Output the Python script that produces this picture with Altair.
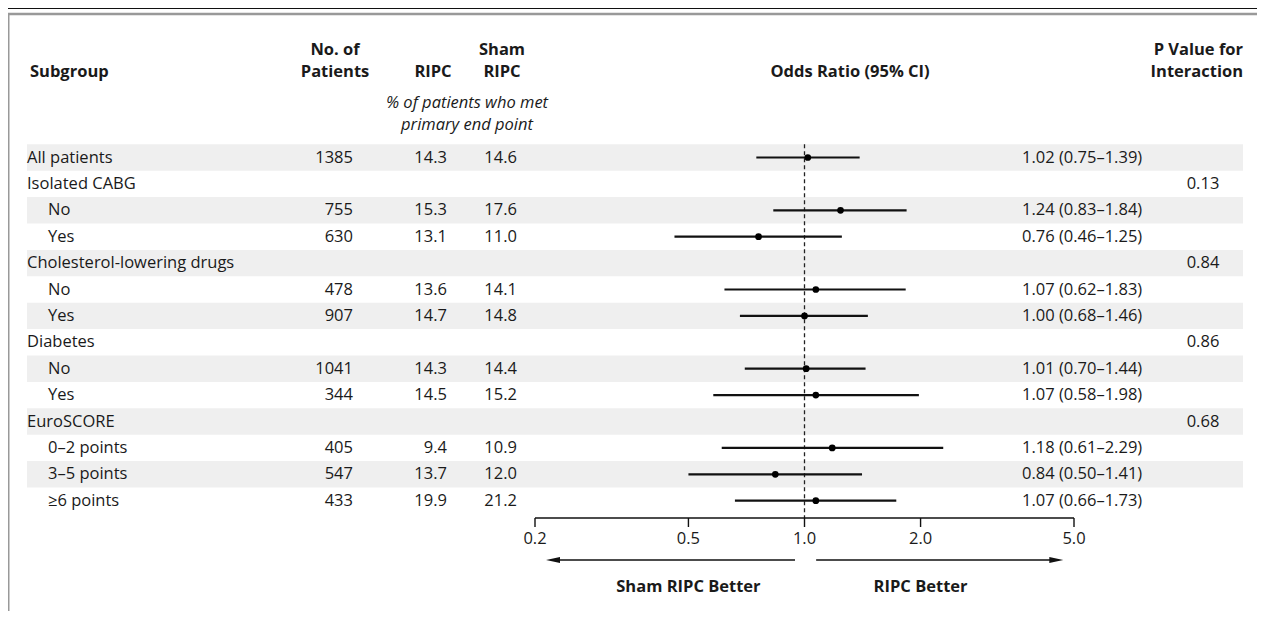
import altair as alt
import pandas as pd

# ---------------- data ----------------
labels = ["All patients", "Isolated CABG", "No", "Yes", "Cholesterol-lowering drugs",
          "No", "Yes", "Diabetes", "No", "Yes", "EuroSCORE",
          "0\u20132 points", "3\u20135 points", "\u22656 points"]
indent = [0, 0, 1, 1, 0, 1, 1, 0, 1, 1, 0, 1, 1, 1]
n_patients = ["1385", "", "755", "630", "", "478", "907", "", "1041", "344", "", "405", "547", "433"]
ripc_pct = ["14.3", "", "15.3", "13.1", "", "13.6", "14.7", "", "14.3", "14.5", "", "9.4", "13.7", "19.9"]
sham_pct = ["14.6", "", "17.6", "11.0", "", "14.1", "14.8", "", "14.4", "15.2", "", "10.9", "12.0", "21.2"]
odds = [1.02, None, 1.24, 0.76, None, 1.07, 1.00, None, 1.01, 1.07, None, 1.18, 0.84, 1.07]
ci_low = [0.75, None, 0.83, 0.46, None, 0.62, 0.68, None, 0.70, 0.58, None, 0.61, 0.50, 0.66]
ci_high = [1.39, None, 1.84, 1.25, None, 1.83, 1.46, None, 1.44, 1.98, None, 2.29, 1.41, 1.73]
p_interaction = ["", "0.13", "", "", "0.84", "", "", "0.86", "", "", "0.68", "", "", ""]
tick_values = [0.2, 0.5, 1.0, 2.0, 5.0]
tick_labels = ["0.2", "0.5", "1.0", "2.0", "5.0"]

# ---------------- layout ----------------
W, H = 1249, 603
ROW0_PAGE, STEP = 157.5, 26.4      # page y of first row, row spacing
ROW0 = ROW0_PAGE - 8


def r(ypage):                      # page pixel -> row units
    return (ypage - ROW0_PAGE) / STEP


FONT = "Open Sans"
FS = 16.5
INK = "#1a1a1a"
D_TOP = -ROW0 / STEP
D_BOT = (H - ROW0) / STEP
yscale = alt.Scale(domain=[D_TOP, D_BOT], range=[0, H], nice=False, zero=False)
xscale = alt.Scale(type="log", domain=[0.2, 5.0], range=[535 - 8, 1074 - 8], nice=False)
pxscale = alt.Scale(domain=[0, W], range=[-8, W - 8], nice=False, zero=False)

rows = pd.DataFrame({
    "row": list(range(len(labels))),
    "label": labels,
    "indent": indent,
    "n": n_patients,
    "ripc": ripc_pct,
    "sham": sham_pct,
    "or": odds,
    "lo": ci_low,
    "hi": ci_high,
    "p": p_interaction,
})
rows["or_text"] = [
    f"{o:.2f} ({l:.2f}\u2013{h:.2f})" if o is not None and not pd.isna(o) else ""
    for o, l, h in zip(rows["or"], rows["lo"], rows["hi"])
]
rows["top"] = rows["row"] - 0.5
rows["bot"] = rows["row"] + 0.5

base = alt.Chart(rows)
Y = alt.Y("row:Q", scale=yscale, axis=None)

bands = base.transform_filter("datum.row % 2 == 0").mark_rect(color="#efefef").encode(
    x=alt.value(27 - 8), x2=alt.value(1243 - 8),
    y=alt.Y("top:Q", scale=yscale, axis=None), y2="bot:Q",
)


def col_text(field, xpx, align):
    return base.mark_text(font=FONT, fontSize=FS, align=align, baseline="middle", color=INK).encode(
        x=alt.value(xpx - 8), y=Y, text=f"{field}:N")


lab_head = base.transform_filter("datum.indent == 0").mark_text(
    font=FONT, fontSize=FS, align="left", baseline="middle", color=INK
).encode(x=alt.value(27 - 8), y=Y, text="label:N")
lab_sub = base.transform_filter("datum.indent == 1").mark_text(
    font=FONT, fontSize=FS, align="left", baseline="middle", color=INK
).encode(x=alt.value(48 - 8), y=Y, text="label:N")

t_n = col_text("n", 353, "right")
t_ripc = col_text("ripc", 447, "right")
t_sham = col_text("sham", 517, "right")
t_or = col_text("or_text", 1022, "left")
t_p = col_text("p", 1203, "center")

# dashed reference line at OR = 1
ref = pd.DataFrame({"v": [1.0], "y1": [-0.5], "y2": [r(518)]})
ref_line = alt.Chart(ref).mark_rule(color="#222", strokeDash=[4, 3], strokeWidth=1.3).encode(
    x=alt.X("v:Q", scale=xscale, axis=None),
    y=alt.Y("y1:Q", scale=yscale, axis=None), y2="y2:Q",
)

ci = base.transform_filter("datum.or != null").mark_rule(color="#111", strokeWidth=2.2).encode(
    x=alt.X("lo:Q", scale=xscale, axis=None), x2="hi:Q", y=Y,
)
pts = base.transform_filter("datum.or != null").mark_point(
    filled=True, color="#000", size=45, opacity=1, shape="circle"
).encode(x=alt.X("or:Q", scale=xscale, axis=None), y=Y)

# axis (drawn through the x scale)
AX = r(518)
axis_df = pd.DataFrame({"a": [0.2], "b": [5.0], "y": [AX]})
axis_line = alt.Chart(axis_df).mark_rule(color="#111", strokeWidth=1.4).encode(
    x=alt.X("a:Q", scale=xscale, axis=None), x2="b:Q",
    y=alt.Y("y:Q", scale=yscale, axis=None),
)
ticks_df = pd.DataFrame({"v": tick_values, "lab": tick_labels,
                         "y1": [AX] * 5, "y2": [r(527)] * 5, "yl": [r(539)] * 5})
ticks = alt.Chart(ticks_df).mark_rule(color="#111", strokeWidth=1.4).encode(
    x=alt.X("v:Q", scale=xscale, axis=None),
    y=alt.Y("y1:Q", scale=yscale, axis=None), y2="y2:Q",
)
tick_text = alt.Chart(ticks_df).mark_text(
    font=FONT, fontSize=FS, baseline="middle", align="center", color=INK
).encode(
    x=alt.X("v:Q", scale=xscale, axis=None),
    y=alt.Y("yl:Q", scale=yscale, axis=None), text="lab:N",
)

# direction arrows
ARR_Y = r(560)
arr_df = pd.DataFrame({"a": [0.945, 1.072], "b": [0.225, 4.45], "y": [ARR_Y] * 2})
arrows = alt.Chart(arr_df).mark_rule(color="#111", strokeWidth=1.6).encode(
    x=alt.X("a:Q", scale=xscale, axis=None), x2="b:Q",
    y=alt.Y("y:Q", scale=yscale, axis=None),
)
head_df = pd.DataFrame({"x": [0.2136, 4.69], "y": [ARR_Y] * 2,
                        "s": ["M0,0L2,-0.42L2,0.42Z", "M0,0L-2,-0.42L-2,0.42Z"]})
heads = alt.Chart(head_df).mark_point(filled=True, color="#111", opacity=1, size=196).encode(
    x=alt.X("x:Q", scale=xscale, axis=None),
    y=alt.Y("y:Q", scale=yscale, axis=None),
    shape=alt.Shape("s:N", scale=None, legend=None),
)
better_df = pd.DataFrame({"x": [0.5, 2.0], "t": ["Sham RIPC Better", "RIPC Better"], "y": [r(587)] * 2})
better = alt.Chart(better_df).mark_text(
    font=FONT, fontSize=FS, fontWeight="bold", align="center", baseline="middle", color=INK
).encode(
    x=alt.X("x:Q", scale=xscale, axis=None),
    y=alt.Y("y:Q", scale=yscale, axis=None), text="t:N",
)

# headers
L1, L2 = r(50), r(72)
hdr_df = pd.DataFrame({
    "t": ["Subgroup", "No. of", "Patients", "RIPC", "Sham", "RIPC",
          "Odds Ratio (95% CI)", "P Value for", "Interaction"],
    "x": [30, 335, 335, 433, 502, 502, 850, 1243, 1243],
    "y": [L2, L1, L2, L2, L1, L2, L2, L1, L2],
    "al": ["left", "center", "center", "center", "center", "center", "center", "right", "right"],
})
hdr_layers = []
for al in ["left", "center", "right"]:
    sub = hdr_df[hdr_df["al"] == al]
    hdr_layers.append(
        alt.Chart(sub).mark_text(font=FONT, fontSize=FS, fontWeight="bold", align=al,
                                 baseline="middle", color=INK).encode(
            x=alt.X("x:Q", scale=pxscale, axis=None),
            y=alt.Y("y:Q", scale=yscale, axis=None), text="t:N",
        )
    )
ital_df = pd.DataFrame({"t": ["% of patients who met", "primary end point"],
                        "x": [467, 467], "y": [r(103), r(125)]})
ital = alt.Chart(ital_df).mark_text(font=FONT, fontSize=FS, fontStyle="italic", align="center",
                                   baseline="middle", color=INK).encode(
    x=alt.X("x:Q", scale=pxscale, axis=None),
    y=alt.Y("y:Q", scale=yscale, axis=None), text="t:N",
)

# frame decorations
one = pd.DataFrame({"k": [0]})
frame_top = alt.Chart(one).mark_rule(color="#111", strokeWidth=2).encode(
    x=alt.value(0), x2=alt.value(W), y=alt.value(0))
frame_top2 = alt.Chart(one).mark_rule(color="#999", strokeWidth=2.5).encode(
    x=alt.value(0), x2=alt.value(W), y=alt.value(6))
frame_left = alt.Chart(one).mark_rule(color="#999", strokeWidth=2).encode(
    x=alt.value(0.5), y=alt.value(6), y2=alt.value(H))

chart = alt.layer(
    bands, frame_top, frame_top2, frame_left,
    lab_head, lab_sub, t_n, t_ripc, t_sham, t_or, t_p,
    ref_line, ci, pts, axis_line, ticks, tick_text, arrows, heads, better,
    *hdr_layers, ital,
).resolve_scale(x="independent").properties(
    width=W, height=H, autosize=alt.AutoSizeParams(type="none"), padding=0,
).configure_view(stroke=None)

chart.save("out.html", embed_options={"renderer": "svg", "actions": False})
